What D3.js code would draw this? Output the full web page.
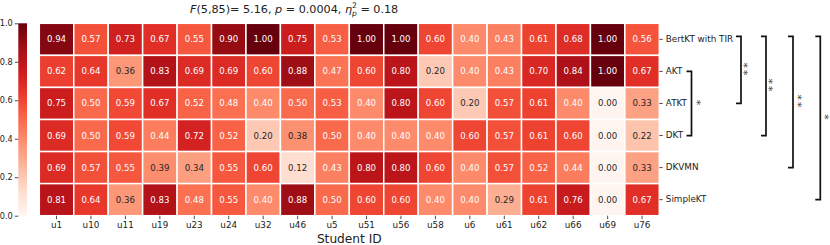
<!DOCTYPE html>
<html><head><meta charset="utf-8">
<script src="https://cdn.jsdelivr.net/npm/d3@7"></script>
<style>body{margin:0;background:#fff}svg{display:block;font-family:"DejaVu Sans",sans-serif}</style>
</head><body><svg id="c" width="830" height="245"></svg>
<script>
const students = ["u1","u10","u11","u19","u23","u24","u32","u46","u5","u51","u56","u58","u6","u61","u62","u66","u69","u76"];
const models = ["BertKT with TIR","AKT","ATKT","DKT","DKVMN","SimpleKT"];
const bertkt  = [0.94,0.57,0.73,0.67,0.55,0.90,1.00,0.75,0.53,1.00,1.00,0.60,0.40,0.43,0.61,0.68,1.00,0.56];
const akt     = [0.62,0.64,0.36,0.83,0.69,0.69,0.60,0.88,0.47,0.60,0.80,0.20,0.40,0.43,0.70,0.84,1.00,0.67];
const atkt    = [0.75,0.50,0.59,0.67,0.52,0.48,0.40,0.50,0.53,0.40,0.80,0.60,0.20,0.57,0.61,0.40,0.00,0.33];
const dkt     = [0.69,0.50,0.59,0.44,0.72,0.52,0.20,0.38,0.50,0.40,0.40,0.40,0.60,0.57,0.61,0.60,0.00,0.22];
const dkvmn   = [0.69,0.57,0.55,0.39,0.34,0.55,0.60,0.12,0.43,0.80,0.80,0.60,0.40,0.57,0.52,0.44,0.00,0.33];
const simplekt= [0.81,0.64,0.36,0.83,0.48,0.55,0.40,0.88,0.50,0.60,0.60,0.40,0.40,0.29,0.61,0.76,0.00,0.67];
const series = [bertkt, akt, atkt, dkt, dkvmn, simplekt];
const colorbarTicks = [0.0,0.2,0.4,0.6,0.8,1.0];
const compA = ["BertKT with TIR","AKT","BertKT with TIR","BertKT with TIR","BertKT with TIR"];
const compB = ["ATKT","DKT","DKT","DKVMN","SimpleKT"];
const compLabel = ["**","*","**","**","*"];
const xTitle = "Student ID";

const svg = d3.select("#c");
const L = 39.3, R = 659.3, T = 23.3, B = 215.7;
const x = d3.scaleBand().domain(students).range([L, R]);
const y = d3.scaleBand().domain(models).range([T, B]);
const color = d3.scaleSequential(d3.interpolateReds).domain([0, 1]);

const cells = [];
series.forEach((vals, i) => vals.forEach((v, j) => cells.push({m: models[i], s: students[j], v})));

function lum(c) {
  const rgb = d3.rgb(c);
  const f = u => { u /= 255; return u <= 0.03928 ? u / 12.92 : Math.pow((u + 0.055) / 1.055, 2.4); };
  return 0.2126 * f(rgb.r) + 0.7152 * f(rgb.g) + 0.0722 * f(rgb.b);
}

const g = svg.append("g");
g.selectAll("rect.cell").data(cells).join("rect").attr("class", "cell")
  .attr("x", d => x(d.s)).attr("y", d => y(d.m))
  .attr("width", x.bandwidth()).attr("height", y.bandwidth())
  .attr("fill", d => color(d.v)).attr("stroke", "#fff").attr("stroke-width", 1.5);
g.selectAll("text.ann").data(cells).join("text").attr("class", "ann")
  .attr("x", d => x(d.s) + x.bandwidth() / 2).attr("y", d => y(d.m) + y.bandwidth() / 2)
  .attr("text-anchor", "middle").attr("dominant-baseline", "central")
  .attr("font-size", "8.6px")
  .attr("fill", d => lum(color(d.v)) > 0.408 ? "#262626" : "#fff")
  .text(d => d.v.toFixed(2));

// x axis
const xa = svg.append("g").attr("transform", `translate(0,${B})`)
  .call(d3.axisBottom(x).tickSize(3.5).tickPadding(3));
xa.select(".domain").remove();
xa.selectAll("text").attr("font-size", "8.8px").attr("fill", "#222").attr("font-family", "DejaVu Sans");
xa.selectAll("line").attr("stroke", "#222").attr("stroke-width", 0.8);
svg.append("text").attr("x", (L + R) / 2).attr("y", 243).attr("text-anchor", "middle")
  .attr("font-size", "12.2px").attr("fill", "#222").text(xTitle);

// y axis right
const ya = svg.append("g").attr("transform", `translate(${R},0)`)
  .call(d3.axisRight(y).tickSize(3.5).tickPadding(3));
ya.select(".domain").remove();
ya.selectAll("text").attr("font-size", "8.8px").attr("fill", "#222").attr("font-family", "DejaVu Sans");
ya.selectAll("line").attr("stroke", "#222").attr("stroke-width", 0.8);

// colorbar
const cbX = 18.3, cbW = 8.7;
const cy = d3.scaleLinear().domain([0, 1]).range([B, T]);
const defs = svg.append("defs");
const grad = defs.append("linearGradient").attr("id", "cbg").attr("x1", 0).attr("y1", 1).attr("x2", 0).attr("y2", 0);
d3.range(0, 1.0001, 0.05).forEach(t => grad.append("stop").attr("offset", t).attr("stop-color", color(t)));
svg.append("rect").attr("x", cbX).attr("y", T).attr("width", cbW).attr("height", B - T).attr("fill", "url(#cbg)");
const ca = svg.append("g").attr("transform", `translate(${cbX},0)`)
  .call(d3.axisLeft(cy).tickValues(colorbarTicks).tickFormat(d3.format(".1f")).tickSize(3.5).tickPadding(2));
ca.select(".domain").remove();
ca.selectAll("text").attr("font-size", "8.2px").attr("fill", "#222").attr("font-family", "DejaVu Sans");
ca.selectAll("line").attr("stroke", "#222").attr("stroke-width", 0.8);

// title
const title = svg.append("text").attr("x", 190).attr("y", 12.5).attr("font-size", "11.2px").attr("fill", "#222");
title.append("tspan").attr("font-style", "italic").text("F");
title.append("tspan").text("(5,85)= 5.16, ");
title.append("tspan").attr("font-style", "italic").text("p");
title.append("tspan").text(" = 0.0004, ");
title.append("tspan").attr("font-style", "italic").text("η");
title.append("tspan").attr("font-size", "7.6px").attr("dy", -4.5).text("2");
title.append("tspan").attr("font-size", "7.6px").attr("font-style", "italic").attr("dx", -4.8).attr("dy", 7.5).text("p");
title.append("tspan").attr("dy", -3).text(" = 0.18");

// significance brackets
const bx = [741, 691.5, 766, 793, 820.3];
const starOff = [5.7, 7.5, 5.2, 7.7, 7.2];
const comps = compA.map((a, i) => ({a, b: compB[i], label: compLabel[i], xr: bx[i], off: starOff[i]}));
const bg = svg.append("g");
const fs = 11;
comps.forEach(c => {
  const y1 = y(c.a) + y.bandwidth() / 2 - (c.a === models[0] ? 3 : 0);
  const y2 = y(c.b) + y.bandwidth() / 2;
  bg.append("text").attr("transform", `translate(${c.xr + c.off - 0.57 * fs},${(y1 + y2) / 2}) rotate(90)`)
    .attr("text-anchor", "middle").attr("font-size", fs + "px").attr("letter-spacing", "2px")
    .attr("fill", "#444").text(c.label);
  bg.append("path").attr("d", `M${c.xr - 5},${y1}H${c.xr}V${y2}H${c.xr - 5}`)
    .attr("fill", "none").attr("stroke", "#111").attr("stroke-width", 1.7);
});
</script></body></html>
